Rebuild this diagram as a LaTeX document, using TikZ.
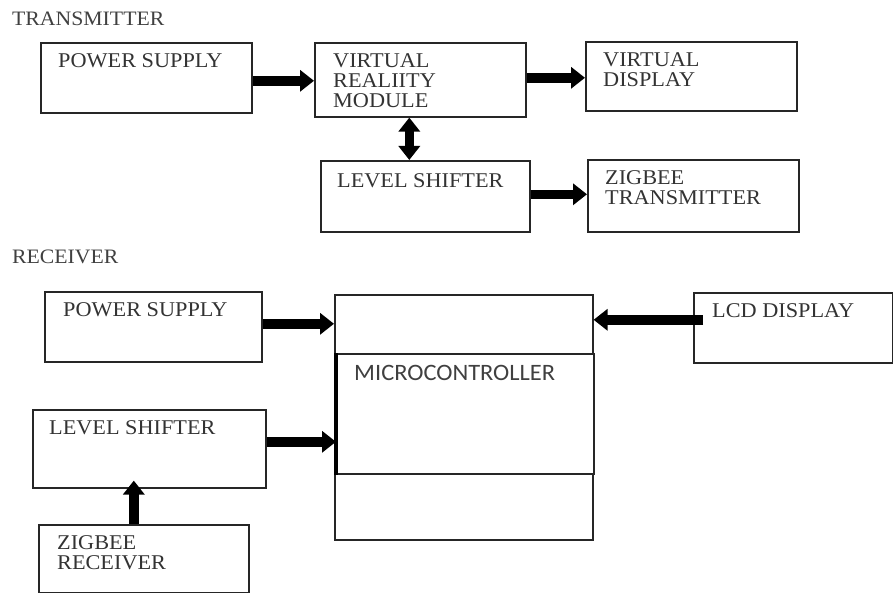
\documentclass[tikz,border=0pt]{standalone}
\usepackage{fontspec}
\setmainfont{Liberation Serif}[FakeStretch=1.06]
\newfontfamily\calfont{Carlito}[FakeStretch=1.04]
\usetikzlibrary{arrows.meta}
\begin{document}
\begin{tikzpicture}[x=1pt,y=-1pt,
  box/.style={draw=black!85, line width=1.6pt, inner sep=0pt, anchor=north west},
  lbl/.style={inner sep=0pt, anchor=north west, align=left, font=\fontsize{21}{20}\selectfont, text=black!80},
  hd/.style={inner sep=0pt, anchor=north west, font=\fontsize{20.5}{20}\selectfont, text=black!75},
  big/.style={line width=9.5pt, -{Triangle[length=14pt,width=21pt]}, black},
  bigboth/.style={line width=9.5pt, {Triangle[length=14pt,width=21pt]}-{Triangle[length=14pt,width=21pt]}, black}
]
\useasboundingbox (0,0) rectangle (893,593);

% ---------------- Transmitter ----------------
\node[hd] (thead) at (12,12) {TRANSMITTER};
\node[box, minimum width=211pt, minimum height=70pt] (tps) at (40,42) {};
\node[box, minimum width=211pt, minimum height=74pt] (tvr) at (314,42) {};
\node[box, minimum width=211pt, minimum height=69pt] (tvd) at (585,41) {};
\node[box, minimum width=209pt, minimum height=71pt] (tls) at (320,160) {};
\node[box, minimum width=211pt, minimum height=72pt] (tzt) at (587,159) {};

\node[lbl] (tpst) at (58,53) {POWER SUPPLY};
\node[lbl] (tvrt) at (333,53) {VIRTUAL\\REALIITY\\MODULE};
\node[lbl] (tvdt) at (603,52) {VIRTUAL\\DISPLAY};
\node[lbl] (tlst) at (337,173) {LEVEL SHIFTER};
\node[lbl] (tztt) at (605,170) {ZIGBEE\\TRANSMITTER};

\coordinate (a1) at ([yshift=-3pt]tps.east);
\draw[big] (a1) -- (a1 -| tvr.west);
\coordinate (a2) at ([yshift=2pt]tvr.east);
\draw[big] (a2) -- (a2 -| tvd.west);
\coordinate (a3) at ([xshift=-11pt]tvr.south);
\draw[bigboth] (a3) -- (a3 |- tls.north);
\coordinate (a4) at ([yshift=2pt]tls.east);
\draw[big] (a4) -- (a4 -| tzt.west);

% ---------------- Receiver ----------------
\node[hd] (rhead) at (12,250) {RECEIVER};
\node[box, minimum width=217pt, minimum height=70pt] (rps) at (44,291) {};
\node[box, minimum width=233pt, minimum height=78pt] (rls) at (32,409) {};
\node[box, minimum width=210pt, minimum height=68pt] (rzr) at (38,524) {};
\node[box, minimum width=199pt, minimum height=70pt] (rlcd) at (693,292) {};
\node[box, minimum width=258pt, minimum height=59pt] (rmc1) at (334,294) {};
\node[box, minimum width=257pt, minimum height=120pt] (rmc2) at (336,353) {};
\node[box, minimum width=258pt, minimum height=66pt] (rmc3) at (334,473) {};
\draw[line width=3.5pt, black] (rmc2.north west) -- (rmc2.south west);

\node[lbl] (rpst) at (63,302) {POWER SUPPLY};
\node[lbl] (rlst) at (49,420) {LEVEL SHIFTER};
\node[lbl] (rzrt) at (57,535) {ZIGBEE\\RECEIVER};
\node[lbl] (rlcdt) at (712,303) {LCD DISPLAY};
\node[inner sep=0pt, anchor=north west, font=\calfont\fontsize{23.5}{22}\selectfont, text=black!75] (rmct) at (354,365) {MICROCONTROLLER};

\coordinate (b1) at ([yshift=3pt]rps.east);
\draw[big] (b1) -- (b1 -| rmc1.west);
\coordinate (b2) at ([yshift=7pt]rls.east);
\draw[big] (b2) -- (b2 -| rmc2.west);
\coordinate (b3) at ([xshift=-10pt]rzr.north);
\draw[big] (b3) -- ([yshift=8pt]b3 |- rls.south);
\coordinate (b4) at ([yshift=8pt,xshift=10pt]rlcd.west);
\draw[big] (b4) -- (b4 -| rmc1.east);
\end{tikzpicture}
\end{document}
